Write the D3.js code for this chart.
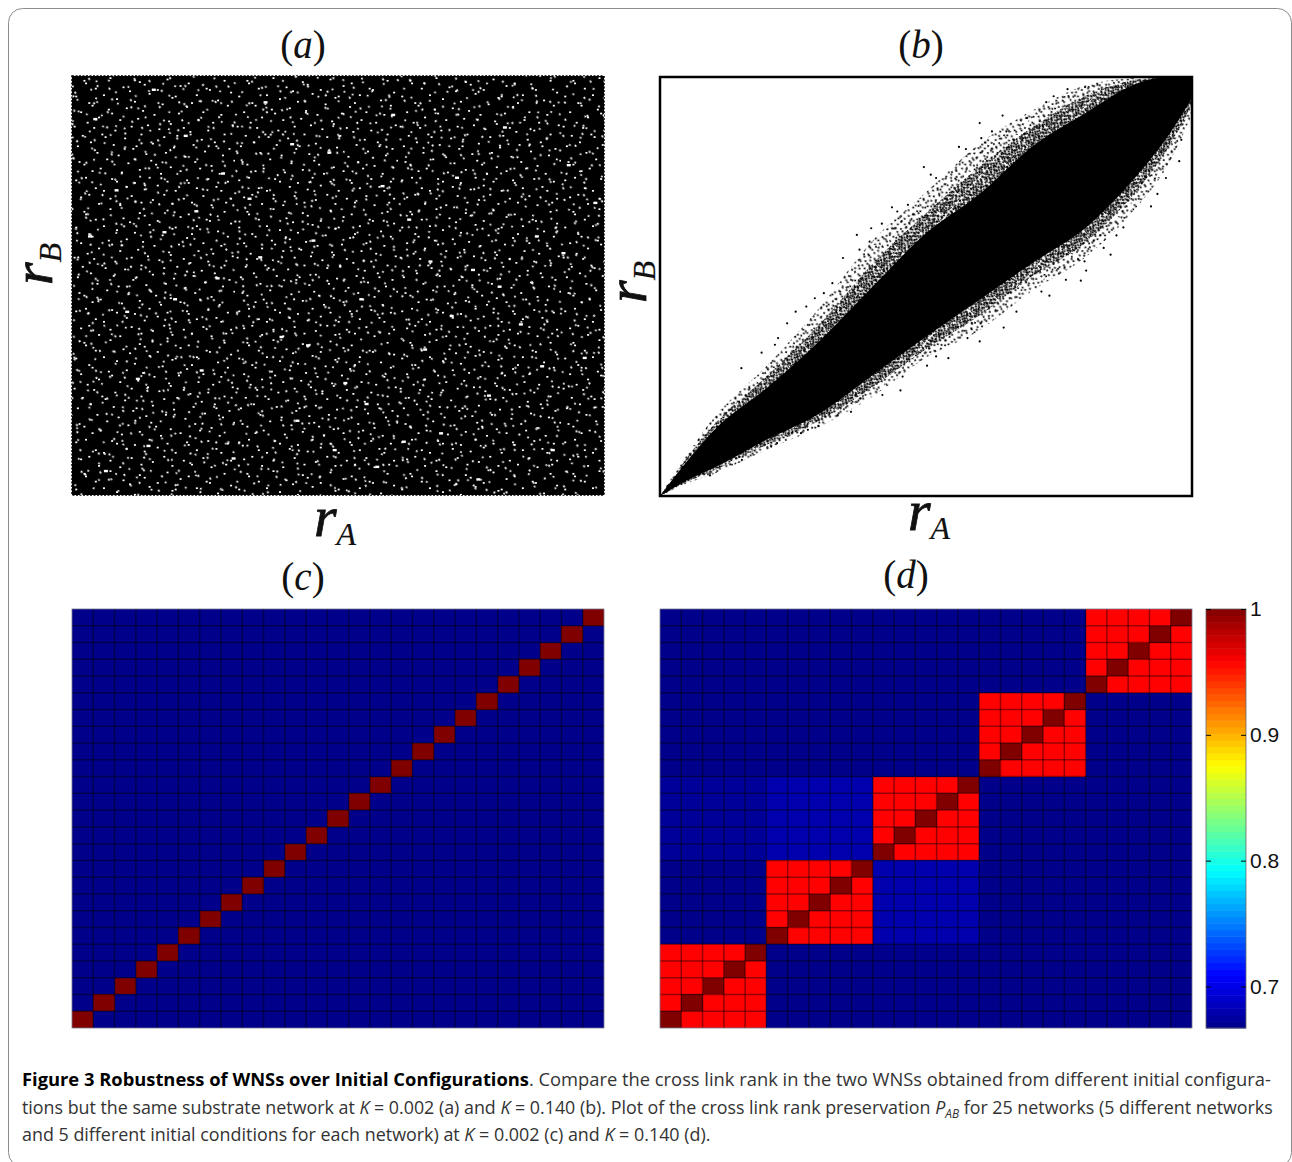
<!DOCTYPE html>
<html>
<head>
<meta charset="utf-8">
<script src="https://cdnjs.cloudflare.com/ajax/libs/d3/7.8.5/d3.min.js"></script>
<style>
  html, body { margin: 0; background: #fff; }
  svg { display: block; }
  .serif { font-family: "Liberation Serif", serif; fill: #111; }
  .cap { font-family: "Open Sans", sans-serif; font-size: 18px; fill: #333; }
</style>
</head>
<body>
<svg id="fig" width="1292" height="1162"></svg>
<script>
// panel (a): the cloud is too dense to read point by point, so these are estimated
// gaps in it (white specks), as percent of a repeating tile
const gapsTileA = [[7,3],[8,5],[23,1],[41,4],[44,6],[58,2],[71,5],[93,3],[14,9],[31,8],[35,11],[52,10],[66,7],[82,9],[84,10],[97,12],
  [2,15],[19,14],[27,17],[47,13],[61,16],[63,15],[76,14],[89,18],[10,20],[12,22],[38,19],[55,21],[70,23],[73,20],[95,22],
  [5,27],[22,25],[24,28],[33,24],[43,26],[50,29],[65,28],[80,27],[91,29],[16,31],[29,33],[40,32],[59,34],[60,36],[77,33],[86,35],
  [1,38],[9,35],[13,39],[26,41],[36,38],[46,37],[53,40],[68,39],[72,42],[83,41],[98,37],[6,45],[18,44],[20,46],[32,47],[42,44],[56,46],[64,45],[79,48],[93,44],
  [3,53],[11,50],[25,52],[37,55],[39,53],[49,51],[62,54],[74,52],[87,50],[88,53],[96,55],[15,58],[28,60],[45,59],[57,58],[69,61],[81,57],[92,60],
  [4,65],[7,67],[21,63],[34,66],[48,64],[51,67],[60,69],[75,65],[85,68],[99,64],[12,72],[17,70],[30,73],[41,71],[54,74],[66,72],[78,70],[90,74],
  [2,79],[8,77],[24,78],[27,80],[38,81],[47,77],[58,80],[70,79],[71,81],[83,78],[95,80],[14,85],[19,87],[33,84],[44,86],[52,83],[63,87],[76,85],[88,84],[91,87],
  [5,92],[10,90],[23,93],[36,91],[49,94],[56,90],[68,93],[80,91],[97,93],[16,97],[29,98],[42,96],[61,97],[73,96],[85,98],[94,96]];
const gapsTileB = [[5,14],[17,31],[28,7],[41,22],[53,39],[66,11],[79,27],[92,5],[9,52],[22,66],[35,47],
  [47,71],[60,55],[73,63],[86,44],[13,84],[30,91],[44,82],[58,95],[70,79],[83,88],[96,72],[38,17],[75,46],[24,48]];
const bigGapsA = [[4,90],[8,73],[10,44],[14,12],[17,63],[21,86],[24,30],[27,52],[30,9],[33,71],[36,94],[39,38],
  [42,18],[45,61],[48,82],[51,27],[54,47],[57,7],[60,91],[63,66],[66,35],[69,15],[72,76],[75,54],[78,24],
  [81,88],[84,41],[87,62],[90,11],[93,79],[96,33],[12,28],[35,57],[58,74],[80,50],[6,6],[23,68],[49,11],[71,43],[92,58],
  [3,62],[19,47],[28,77],[41,84],[55,22],[67,56],[76,4],[88,31],[98,70],[15,97],[44,36],[62,13]];

// panel (b): rank axis grid with the solid core and the edges of the speckled fringe
const rankGrid = [0, 5, 10, 20, 30, 40, 50, 60, 70, 80, 90, 95, 100];
const coreUpper = [0, 8.2, 15.5, 25.7, 37, 50, 62.7, 72, 83.4, 91.4, 98.6, 100, 100];
const coreLower = [0, 3.7, 6.6, 13.4, 19.7, 28.9, 38, 46.8, 55.6, 64, 77, 85, 95];
const midUpper = [0, 9, 16.8, 28.5, 41, 55.5, 67.5, 78.5, 88, 95.5, 99.5, 100, 100];
const midLower = [0, 3.3, 6, 12.2, 18, 26, 35, 43, 52.5, 60.5, 73.5, 82, 93.5];
const fringeUpper = [0, 9.8, 18.5, 31, 45, 61, 72.5, 84, 92, 98, 99.8, 100, 100];
const fringeLower = [0, 3, 5.2, 11, 16.5, 23.8, 33, 39.5, 49, 57, 69.5, 78, 91];
const outliersB = [[15.3,30.5],[19.1,34.2],[21.6,36.1],[22.2,37.7],[23.9,41.2],[25.5,44],[27.5,45.2],[29.1,47.2],
  [30.8,48.4],[34.4,56.8],[32.4,50.8],[37,62.3],[37.5,58.8],[39.7,63.9],[41.7,65],[39.4,60.7],[43.6,68.9],
  [44.6,67.9],[46.6,69.5],[49.6,78.5],[50.9,76.7],[51.9,75.9],[56.2,83.3],[57.5,82.8],[60.1,89],[64.4,90.8],
  [62.4,87],[60.4,85.4],[65.1,87],[69,90.2],[72.6,94],[76.6,97.1],[79.9,97.6],[74,95.4],
  [9.4,4.9],[15.4,8.6],[20.9,11.8],[22,12.6],[26.5,15],[27.8,15.8],[29.8,16.7],[35.9,20.1],[35.1,22.1],
  [37.7,23.3],[41.8,24.1],[45.2,25.2],[45.6,28.5],[50.2,31.1],[51.9,33.3],[54.2,32.9],[57.8,37.7],[60.1,36.9],
  [64.6,40.2],[67,44],[71.7,48.8],[73.2,47.8],[76.3,51.6],[79.1,51.4],[80.1,53.8],[79.8,56],[84.7,57.6],
  [83.4,59.2],[85.8,62.2],[87.1,64.1],[92.3,69.1],[93.5,72.1],[95.1,75.9],[97.6,79.9],[98,85]];

// panels (c) and (d): 25 runs, 5 networks with 5 initial conditions each
const runCount = 25;
const runsPerNetwork = 5;
const cBackground = 0.667;
const selfValue = 1;
// rows go from the bottom network up
const networkPairs = [
  [0.958, 0.667, 0.668, 0.667, 0.667],
  [0.667, 0.958, 0.68, 0.667, 0.667],
  [0.672, 0.68, 0.958, 0.667, 0.667],
  [0.667, 0.667, 0.667, 0.958, 0.667],
  [0.667, 0.667, 0.667, 0.667, 0.958]
];

const jetPositions = [0, 0.125, 0.375, 0.625, 0.875, 1];
const jetColors = ['#00008a', '#0000ff', '#00ffff', '#ffff00', '#ff0000', '#800000'];
const colorTicks = [0.7, 0.8, 0.9, 1];

const captionLines = [
  [['b', 'Figure 3 Robustness of WNSs over Initial Configurations'], ['', '. Compare the cross link rank in the two WNSs obtained from different initial configura-']],
  [['', 'tions but the same substrate network at '], ['i', 'K'], ['', ' = 0.002 (a) and '], ['i', 'K'], ['', ' = 0.140 (b). Plot of the cross link rank preservation '], ['i', 'P'], ['s', 'AB'], ['', ' for 25 networks (5 different networks']],
  [['', 'and 5 different initial conditions for each network) at '], ['i', 'K'], ['', ' = 0.002 (c) and '], ['i', 'K'], ['', ' = 0.140 (d).']]
];

const svg = d3.select('#fig');
const defs = svg.append('defs');
defs.append('filter').attr('id', 'soft').append('feGaussianBlur').attr('stdDeviation', 0.35);

svg.append('rect')
  .attr('x', 8.5).attr('y', 8.5).attr('width', 1283).attr('height', 1158).attr('rx', 14)
  .attr('fill', 'none').attr('stroke', '#8c8c8c').attr('stroke-width', 1);

const panelW = 532, panelH = 419;
const leftX = 72, rightX = 660, topY = 77, lowY = 609;

const rankX = d3.scaleLinear().domain([0, 100]).range([0, panelW]);
const rankY = d3.scaleLinear().domain([0, 100]).range([panelH, 0]);

function addTile(id, points, w, h, color, size, angle) {
  const sx = d3.scaleLinear().domain([0, 100]).range([0, w]);
  const sy = d3.scaleLinear().domain([0, 100]).range([0, h]);
  defs.append('pattern')
    .attr('id', id).attr('patternUnits', 'userSpaceOnUse').attr('width', w).attr('height', h)
    .attr('patternTransform', `rotate(${angle})`)
    .selectAll('rect').data(points).join('rect')
    .attr('x', d => sx(d[0])).attr('y', d => sy(d[1]))
    .attr('width', size).attr('height', size * 0.85).attr('fill', color);
}
addTile('gapsA', gapsTileA, 163, 131, '#fff', 2, 0);
addTile('gapsB', gapsTileB, 79, 61, '#fff', 1.9, 23);
addTile('gapsC', gapsTileA, 211, 173, '#fff', 2.1, 58);
addTile('stipOuterA', gapsTileA, 61, 49, '#000', 1.9, 17);
addTile('stipOuterB', gapsTileB, 40, 33, '#000', 1.9, 71);
addTile('stipMid', gapsTileA, 34, 27, '#000', 2, 41);

// panel a
const pa = svg.append('g').attr('transform', `translate(${leftX},${topY - 1})`);
pa.append('rect').attr('width', panelW).attr('height', panelH).attr('fill', '#000')
  .attr('stroke', '#000').attr('stroke-width', 1.5).attr('stroke-dasharray', '2 1.5');
const paGaps = pa.append('g').attr('filter', 'url(#soft)');
['gapsA', 'gapsB', 'gapsC'].forEach(id => {
  paGaps.append('rect').attr('width', panelW).attr('height', panelH).attr('fill', `url(#${id})`);
});
paGaps.selectAll('.big').data(bigGapsA).join('rect').attr('class', 'big')
  .attr('x', d => rankX(d[0])).attr('y', d => rankY(d[1]))
  .attr('width', 4).attr('height', 2.4).attr('fill', '#fff');

// panel b
const pb = svg.append('g').attr('transform', `translate(${rightX},${topY})`);
const bandArea = (up, low) => d3.area()
  .curve(d3.curveMonotoneX)
  .x(d => rankX(d))
  .y0((d, i) => rankY(low[i]))
  .y1((d, i) => rankY(up[i]));
pb.append('path').datum(rankGrid).attr('d', bandArea(fringeUpper, fringeLower)).attr('fill', 'url(#stipOuterA)');
pb.append('path').datum(rankGrid).attr('d', bandArea(fringeUpper, fringeLower)).attr('fill', 'url(#stipOuterB)');
pb.append('path').datum(rankGrid).attr('d', bandArea(midUpper, midLower)).attr('fill', 'url(#stipMid)');
pb.append('path').datum(rankGrid).attr('d', bandArea(coreUpper, coreLower)).attr('fill', '#000');
pb.selectAll('circle').data(outliersB).join('circle')
  .attr('cx', d => rankX(d[0])).attr('cy', d => rankY(d[1])).attr('r', 1.1).attr('fill', '#000');
pb.append('rect').attr('width', panelW).attr('height', panelH)
  .attr('fill', 'none').attr('stroke', '#000').attr('stroke-width', 2.5);

// panels c and d
const jet = d3.scaleLinear()
  .domain(jetPositions.map(p => cBackground + p * (selfValue - cBackground)))
  .range(jetColors);

const cellsC = [], cellsD = [];
d3.range(runCount).forEach(row => {
  d3.range(runCount).forEach(col => {
    cellsC.push({ row, col, value: row === col ? selfValue : cBackground });
    const netR = Math.floor(row / runsPerNetwork), netC = Math.floor(col / runsPerNetwork);
    cellsD.push({ row, col, value: row === col ? selfValue : networkPairs[netR][netC] });
  });
});

const cellX = d3.scaleLinear().domain([0, runCount]).range([0, panelW]);
const cellY = d3.scaleLinear().domain([0, runCount]).range([panelH, 0]);

function drawMatrix(x, cells) {
  const g = svg.append('g').attr('transform', `translate(${x},${lowY})`);
  g.selectAll('rect').data(cells).join('rect')
    .attr('x', d => Math.round(cellX(d.col))).attr('y', d => Math.round(cellY(d.row + 1)))
    .attr('width', d => Math.round(cellX(d.col + 1)) - Math.round(cellX(d.col)))
    .attr('height', d => Math.round(cellY(d.row)) - Math.round(cellY(d.row + 1)))
    .attr('fill', d => jet(d.value));
  // soft grid, the reference lines are about two pixels wide and blurred
  const lines = d3.range(1, runCount);
  const grid = g.append('g').attr('filter', 'url(#soft)');
  grid.selectAll('.v').data(lines).join('line').attr('class', 'v')
    .attr('x1', d => cellX(d)).attr('x2', d => cellX(d)).attr('y1', 0).attr('y2', panelH);
  grid.selectAll('.h').data(lines).join('line').attr('class', 'h')
    .attr('y1', d => cellY(d)).attr('y2', d => cellY(d)).attr('x1', 0).attr('x2', panelW);
  grid.selectAll('line').attr('stroke', '#000').attr('stroke-opacity', 0.42).attr('stroke-width', 1.5);
  g.append('rect').attr('width', panelW).attr('height', panelH)
    .attr('fill', 'none').attr('stroke', '#77778c').attr('stroke-width', 0.8);
}
drawMatrix(leftX, cellsC);
drawMatrix(rightX, cellsD);

// colorbar
const barX = 1206, barW = 40;
const barY = d3.scaleLinear().domain([cBackground, selfValue]).range([lowY + panelH, lowY]);
const levels = d3.range(64);
const bar = svg.append('g').attr('transform', `translate(${barX},0)`);
bar.selectAll('rect').data(levels).join('rect')
  .attr('width', barW)
  .attr('y', d => barY(cBackground + (d + 1) / 64 * (selfValue - cBackground)))
  .attr('height', panelH / 64 + 0.5)
  .attr('fill', d => jet(cBackground + (d + 0.5) / 64 * (selfValue - cBackground)));
bar.append('rect').attr('y', lowY).attr('width', barW).attr('height', panelH)
  .attr('fill', 'none').attr('stroke', '#666').attr('stroke-width', 0.8);

const barAxis = d3.axisRight(barY).tickValues(colorTicks).tickFormat(d3.format('~g')).tickSize(-5).tickPadding(4);
const axisG = svg.append('g').attr('transform', `translate(${barX + barW},0)`).call(barAxis);
axisG.select('.domain').remove();
axisG.selectAll('text').attr('font-family', '"Liberation Sans", Arial, sans-serif').attr('font-size', 21).attr('fill', '#111');
const barAxisL = d3.axisLeft(barY).tickValues(colorTicks).tickFormat('').tickSize(-5);
const axisL = svg.append('g').attr('transform', `translate(${barX},0)`).call(barAxisL);
axisL.select('.domain').remove();

// panel titles and axis names
function panelTitle(letter, x, y) {
  const t = svg.append('text').attr('class', 'serif').attr('x', x).attr('y', y)
    .attr('text-anchor', 'middle').attr('font-size', 39);
  t.append('tspan').text('(');
  t.append('tspan').attr('font-style', 'italic').text(letter);
  t.append('tspan').text(')');
}
panelTitle('a', 303, 58);
panelTitle('b', 921, 58);
panelTitle('c', 303, 590);
panelTitle('d', 906, 588);

function rankLabel(sub, x, y, rotate) {
  const t = svg.append('text').attr('class', 'serif')
    .attr('transform', `translate(${x},${y})` + (rotate ? ' rotate(-90)' : ''))
    .attr('text-anchor', 'middle')
    .attr('font-style', 'italic').attr('font-size', 58).attr('stroke', '#111').attr('stroke-width', 0.8);
  t.append('tspan').text('r');
  t.append('tspan').attr('font-size', 32).attr('dy', 9).attr('stroke-width', 0.2).text(sub);
}
rankLabel('A', 335, 536, false);
rankLabel('B', 52, 264, true);
rankLabel('A', 929, 530, false);
rankLabel('B', 646, 282, true);

// caption, squeezed to the line widths of the reference
const lineEnds = [1272, 1274, 711];
captionLines.forEach((parts, i) => {
  const t = svg.append('text').attr('class', 'cap');
  parts.forEach(([kind, str]) => {
    const s = t.append('tspan').text(str);
    if (kind === 'b') s.attr('font-weight', 700).attr('fill', '#000');
    if (kind === 'i') s.attr('font-style', 'italic');
    if (kind === 's') s.attr('font-style', 'italic').attr('font-size', 12).attr('dy', 4);
    else if (i === 1 && str.startsWith(' for')) s.attr('dy', -4);
  });
  const squeeze = (lineEnds[i] - 22) / t.node().getComputedTextLength();
  t.attr('transform', `translate(22,${1086 + i * 27.5}) scale(${squeeze},1)`);
});
</script>
</body>
</html>
